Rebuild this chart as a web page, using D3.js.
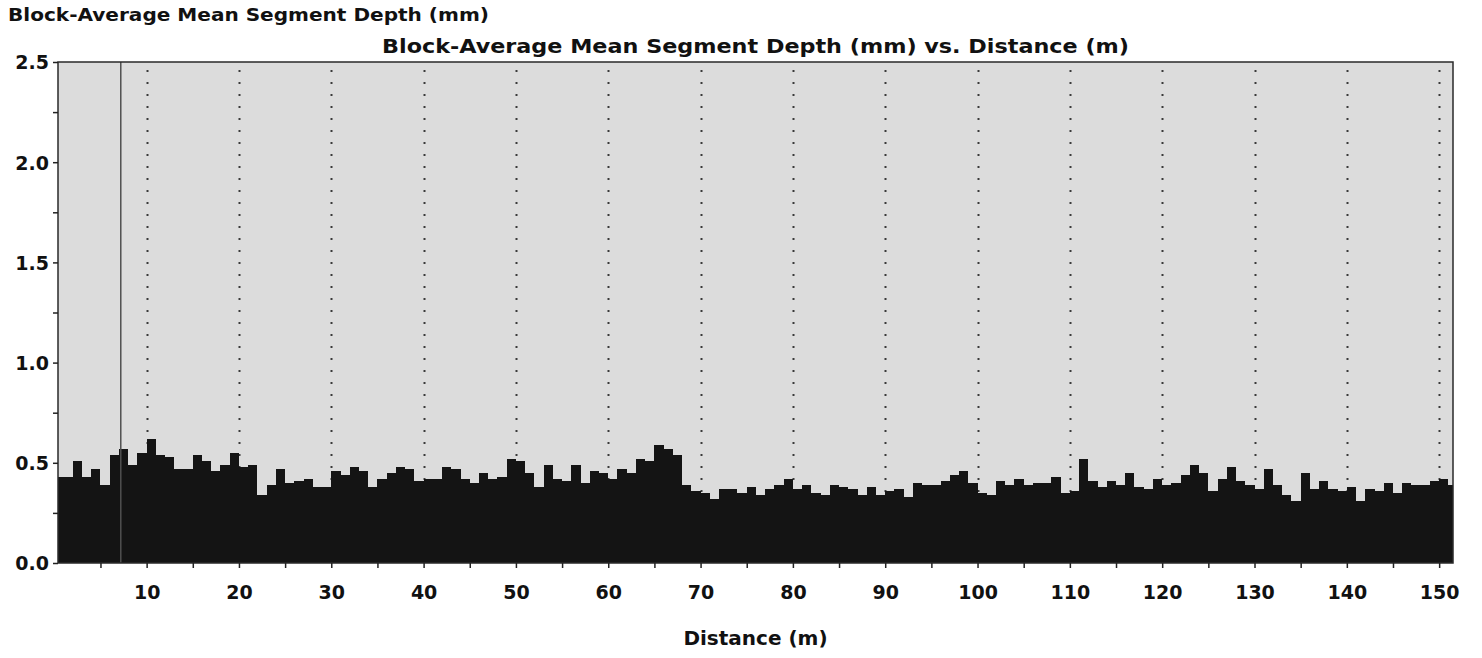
<!DOCTYPE html>
<html>
<head>
<meta charset="utf-8">
<script src="https://cdn.jsdelivr.net/npm/d3@7"></script>
<style>
  html, body { margin: 0; padding: 0; background: #ffffff; }
  svg { display: block; }
  text { font-family: "DejaVu Sans", "Liberation Sans", sans-serif; font-weight: bold; fill: #111; }
</style>
</head>
<body>
<svg id="chart" width="1482" height="658"></svg>
<script>
// Block-averaged mean segment depth, one value per 1 m block
const blockWidth = 1; // m
const depthMm = [
  0.43, 0.43, 0.51, 0.43, 0.47, 0.39, 0.54, 0.57, 0.49, 0.55,
  0.62, 0.54, 0.53, 0.47, 0.47, 0.54, 0.51, 0.46, 0.49, 0.55,
  0.48, 0.49, 0.34, 0.39, 0.47, 0.40, 0.41, 0.42, 0.38, 0.38,
  0.46, 0.44, 0.48, 0.46, 0.38, 0.42, 0.45, 0.48, 0.47, 0.41,
  0.42, 0.42, 0.48, 0.47, 0.42, 0.40, 0.45, 0.42, 0.43, 0.52,
  0.51, 0.45, 0.38, 0.49, 0.42, 0.41, 0.49, 0.40, 0.46, 0.45,
  0.42, 0.47, 0.45, 0.52, 0.51, 0.59, 0.57, 0.54, 0.39, 0.36,
  0.35, 0.32, 0.37, 0.37, 0.35, 0.38, 0.34, 0.37, 0.39, 0.42,
  0.37, 0.39, 0.35, 0.34, 0.39, 0.38, 0.37, 0.34, 0.38, 0.34,
  0.36, 0.37, 0.33, 0.40, 0.39, 0.39, 0.41, 0.44, 0.46, 0.40,
  0.35, 0.34, 0.41, 0.39, 0.42, 0.39, 0.40, 0.40, 0.43, 0.35,
  0.36, 0.52, 0.41, 0.38, 0.41, 0.39, 0.45, 0.38, 0.37, 0.42,
  0.39, 0.40, 0.44, 0.49, 0.45, 0.36, 0.42, 0.48, 0.41, 0.39,
  0.37, 0.47, 0.39, 0.34, 0.31, 0.45, 0.37, 0.41, 0.37, 0.36,
  0.38, 0.31, 0.37, 0.36, 0.40, 0.35, 0.40, 0.39, 0.39, 0.41,
  0.42, 0.39
];

const xDomain = [0.4, 151.5];     // distance range shown (m)
const yDomain = [0, 2.5];         // depth range shown (mm)
const xMinorTicks = [5, 10, 15, 20, 25, 30, 35, 40, 45, 50, 55, 60, 65, 70, 75,
                     80, 85, 90, 95, 100, 105, 110, 115, 120, 125, 130, 135, 140, 145, 150];
const xGridLines = [10, 20, 30, 40, 50, 60, 70, 80, 90, 100, 110, 120, 130, 140, 150];
const yTicks = [0, 0.25, 0.5, 0.75, 1.0, 1.25, 1.5, 1.75, 2.0, 2.25, 2.5];
const cursorDistance = 7.2;       // marker position (m)

const titleText = "Block-Average Mean Segment Depth (mm) vs. Distance (m)";
const yLabelText = "Block-Average Mean Segment Depth (mm)";
const xLabelText = "Distance (m)";

const plot = { left: 58, right: 1453, top: 62, bottom: 563 };

const svg = d3.select("#chart");

const x = d3.scaleLinear().domain(xDomain).range([plot.left, plot.right]);
const y = d3.scaleLinear().domain(yDomain).range([plot.bottom, plot.top]);

svg.append("defs").append("clipPath").attr("id", "plot-clip")
  .append("rect")
  .attr("x", plot.left).attr("y", plot.top)
  .attr("width", plot.right - plot.left).attr("height", plot.bottom - plot.top);

// plot background
svg.append("rect")
  .attr("x", plot.left).attr("y", plot.top)
  .attr("width", plot.right - plot.left).attr("height", plot.bottom - plot.top)
  .attr("fill", "#dcdcdc");

// dotted vertical grid at every 10 m
svg.append("g").selectAll("line").data(xGridLines).join("line")
  .attr("x1", d => Math.round(x(d)) + 0.5).attr("x2", d => Math.round(x(d)) + 0.5)
  .attr("y1", plot.top + 8).attr("y2", plot.bottom)
  .attr("stroke", "#3a3a3a").attr("stroke-width", 2)
  .attr("stroke-dasharray", "2 10");

// block bars
const blocks = depthMm.map((v, i) => ({ start: i * blockWidth, value: v }));
svg.append("g").attr("clip-path", "url(#plot-clip)")
  .selectAll("rect").data(blocks).join("rect")
  .attr("x", d => x(d.start))
  .attr("width", d => x(d.start + blockWidth) - x(d.start))
  .attr("y", d => y(d.value))
  .attr("height", d => y(0) - y(d.value))
  .attr("fill", "#141414")
  .attr("shape-rendering", "crispEdges");

// cursor marker
svg.append("line")
  .attr("x1", x(cursorDistance)).attr("x2", x(cursorDistance))
  .attr("y1", plot.top).attr("y2", plot.bottom)
  .attr("stroke", "#505050").attr("stroke-width", 1.5);

// frame
svg.append("rect")
  .attr("x", plot.left).attr("y", plot.top)
  .attr("width", plot.right - plot.left).attr("height", plot.bottom - plot.top)
  .attr("fill", "none").attr("stroke", "#2a2a2a").attr("stroke-width", 1.5);

// y axis
const fmtY = d3.format(".1f");
const yAxis = svg.append("g")
  .attr("transform", `translate(${plot.left},0)`)
  .call(d3.axisLeft(y).tickValues(yTicks).tickSize(5).tickPadding(4)
    .tickFormat(d => (Math.round(d * 100) % 50 === 0 ? fmtY(d) : "")));
yAxis.select(".domain").remove();
yAxis.selectAll(".tick line").attr("stroke", "#222").attr("stroke-width", 1.5);
yAxis.selectAll(".tick text").attr("font-size", 19).attr("font-family", "DejaVu Sans")
  .attr("font-weight", "bold").attr("fill", "#111").attr("dy", "0.36em");

// x axis
const xAxis = svg.append("g")
  .attr("transform", `translate(0,${plot.bottom})`)
  .call(d3.axisBottom(x).tickValues(xMinorTicks).tickSize(5).tickPadding(18)
    .tickFormat(d => (d % 10 === 0 ? String(d) : "")));
xAxis.select(".domain").remove();
xAxis.selectAll(".tick line").attr("stroke", "#222").attr("stroke-width", 1.5);
xAxis.selectAll(".tick text").attr("font-size", 19).attr("font-family", "DejaVu Sans")
  .attr("font-weight", "bold").attr("fill", "#111");

// titles
svg.append("text")
  .attr("x", 8).attr("y", 21)
  .attr("font-size", 18)
  .attr("textLength", 481).attr("lengthAdjust", "spacingAndGlyphs")
  .text(yLabelText);

svg.append("text")
  .attr("x", (plot.left + plot.right) / 2).attr("y", 53)
  .attr("text-anchor", "middle")
  .attr("font-size", 20)
  .attr("textLength", 747).attr("lengthAdjust", "spacingAndGlyphs")
  .text(titleText);

svg.append("text")
  .attr("x", (plot.left + plot.right) / 2).attr("y", 645)
  .attr("text-anchor", "middle")
  .attr("font-size", 20)
  .text(xLabelText);
</script>
</body>
</html>
